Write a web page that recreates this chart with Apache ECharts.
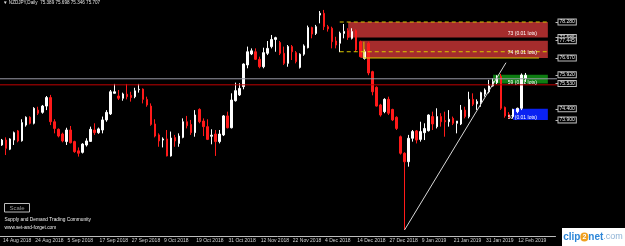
<!DOCTYPE html>
<html><head><meta charset="utf-8">
<script src="https://cdn.jsdelivr.net/npm/echarts@6/dist/echarts.min.js"></script>
<style>html,body{margin:0;padding:0;background:#000;overflow:hidden}#c{width:625px;height:246px}</style>
</head><body><div id="c"></div>
<script>
// ---- data ----
const dates = ['14 Aug 2018','15 Aug 2018','16 Aug 2018','17 Aug 2018','20 Aug 2018','21 Aug 2018','22 Aug 2018','23 Aug 2018',
'24 Aug 2018','27 Aug 2018','28 Aug 2018','29 Aug 2018','30 Aug 2018','31 Aug 2018','3 Sep 2018','4 Sep 2018',
'5 Sep 2018','6 Sep 2018','7 Sep 2018','10 Sep 2018','11 Sep 2018','12 Sep 2018','13 Sep 2018','14 Sep 2018',
'17 Sep 2018','18 Sep 2018','19 Sep 2018','20 Sep 2018','21 Sep 2018','24 Sep 2018','25 Sep 2018','26 Sep 2018',
'27 Sep 2018','28 Sep 2018','1 Oct 2018','2 Oct 2018','3 Oct 2018','4 Oct 2018','5 Oct 2018','8 Oct 2018',
'9 Oct 2018','10 Oct 2018','11 Oct 2018','12 Oct 2018','15 Oct 2018','16 Oct 2018','17 Oct 2018','18 Oct 2018',
'19 Oct 2018','22 Oct 2018','23 Oct 2018','24 Oct 2018','25 Oct 2018','26 Oct 2018','29 Oct 2018','30 Oct 2018',
'31 Oct 2018','1 Nov 2018','2 Nov 2018','5 Nov 2018','6 Nov 2018','7 Nov 2018','8 Nov 2018','9 Nov 2018',
'12 Nov 2018','13 Nov 2018','14 Nov 2018','15 Nov 2018','16 Nov 2018','19 Nov 2018','20 Nov 2018','21 Nov 2018',
'22 Nov 2018','23 Nov 2018','26 Nov 2018','27 Nov 2018','28 Nov 2018','29 Nov 2018','30 Nov 2018','3 Dec 2018',
'4 Dec 2018','5 Dec 2018','6 Dec 2018','7 Dec 2018','10 Dec 2018','11 Dec 2018','12 Dec 2018','13 Dec 2018',
'14 Dec 2018','17 Dec 2018','18 Dec 2018','19 Dec 2018','20 Dec 2018','21 Dec 2018','24 Dec 2018','26 Dec 2018',
'27 Dec 2018','28 Dec 2018','31 Dec 2018','2 Jan 2019','3 Jan 2019','4 Jan 2019','7 Jan 2019','8 Jan 2019',
'9 Jan 2019','10 Jan 2019','11 Jan 2019','14 Jan 2019','15 Jan 2019','16 Jan 2019','17 Jan 2019','18 Jan 2019',
'21 Jan 2019','22 Jan 2019','23 Jan 2019','24 Jan 2019','25 Jan 2019','28 Jan 2019','29 Jan 2019','30 Jan 2019',
'31 Jan 2019','1 Feb 2019','4 Feb 2019','5 Feb 2019','6 Feb 2019','7 Feb 2019','8 Feb 2019','11 Feb 2019',
'12 Feb 2019','13 Feb 2019','14 Feb 2019'];

const opens = [72.78,73.00,72.59,73.00,73.41,72.97,73.67,74.02,73.75,74.34,74.24,74.52,74.90,73.82,73.48,73.27,
72.93,73.45,72.93,72.52,72.45,72.78,72.94,73.45,73.33,73.45,73.90,74.17,75.09,74.97,74.87,75.05,
75.00,74.94,75.25,75.28,74.82,74.52,73.72,73.23,73.00,73.05,72.29,73.11,72.85,73.12,73.82,73.70,
73.33,74.37,73.85,73.60,73.17,73.27,72.93,73.23,74.08,73.55,74.76,75.02,75.39,76.36,76.85,76.95,
76.61,76.28,76.88,77.18,77.50,77.36,76.88,76.43,77.18,76.91,76.25,76.84,77.13,78.03,77.77,78.59,
78.67,78.07,78.00,77.43,77.33,77.77,77.89,77.55,77.89,77.40,76.65,77.33,76.06,75.36,74.57,74.27,
74.82,74.37,74.02,73.15,72.41,72.03,73.08,73.41,73.03,73.33,73.42,74.05,73.60,74.05,73.87,73.82,
73.97,73.75,73.72,74.34,74.05,74.82,74.62,74.67,75.05,75.16,75.42,75.57,75.84,74.46,74.15,74.05,
74.27,74.42,75.76];
const highs = [73.05,73.12,73.08,73.38,73.45,73.93,74.06,74.06,74.47,74.49,74.57,74.97,75.02,73.93,73.52,73.33,
73.55,73.63,72.97,72.67,72.86,73.08,73.60,73.75,73.56,74.05,74.34,75.24,75.51,75.24,75.12,75.51,
75.16,75.34,75.51,75.31,74.94,74.64,73.93,73.30,73.12,73.45,73.38,73.23,73.30,73.97,74.08,73.90,
74.34,74.42,73.97,73.93,73.48,73.45,73.45,74.12,74.27,75.09,75.57,75.54,76.43,77.18,77.10,77.10,
76.73,77.13,77.43,77.70,77.62,77.43,77.18,77.25,77.25,76.98,76.88,77.28,78.12,78.07,78.15,78.77,
78.82,78.15,78.07,77.62,77.85,78.19,78.00,78.00,77.95,77.45,77.05,77.40,76.10,75.40,74.62,74.87,
74.94,74.40,74.06,73.20,72.45,73.23,73.45,73.45,73.82,73.75,74.15,74.27,74.42,74.20,74.27,74.34,
74.05,73.85,74.57,74.49,75.16,75.09,74.82,75.16,75.31,75.69,75.76,75.90,75.96,74.50,74.25,74.40,
74.45,75.98,76.00];
const lows = [72.74,72.33,72.55,72.78,72.90,72.93,73.60,73.70,73.70,74.12,74.18,74.34,73.67,73.30,73.12,72.90,
72.78,72.85,72.43,72.26,72.40,72.71,72.93,73.23,73.28,73.30,73.82,74.12,75.09,74.79,74.76,74.82,
74.72,74.87,75.12,74.64,74.49,73.64,73.12,72.70,72.67,72.27,72.26,72.70,72.70,73.08,73.52,73.23,
73.15,73.75,73.18,73.00,72.81,72.29,72.85,73.18,73.52,73.52,74.72,74.97,75.27,76.21,76.80,76.58,
76.21,76.21,76.80,77.10,76.95,76.80,76.36,76.28,76.58,76.43,76.20,76.77,77.10,77.55,77.70,78.22,
77.92,77.85,77.10,77.10,76.93,77.55,77.48,77.50,76.95,76.70,76.60,75.90,75.00,74.50,74.05,74.20,
74.12,73.85,73.45,72.35,68.98,71.81,72.93,72.85,72.93,73.00,73.38,73.45,73.52,73.60,73.15,73.60,
73.67,73.30,73.67,73.97,73.97,74.52,74.35,74.49,74.94,75.09,75.39,75.50,74.35,74.00,73.95,73.98,
74.20,74.34,75.60];
const closes = [73.00,72.63,73.05,73.33,72.96,73.78,74.02,73.75,74.42,74.20,74.52,74.90,73.82,73.52,73.18,72.96,
73.45,72.88,72.48,72.41,72.82,72.96,73.48,73.33,73.50,73.90,74.24,75.16,75.16,74.87,75.06,74.94,
74.90,75.20,75.27,74.82,74.57,73.70,73.18,72.96,73.05,72.29,73.09,72.96,73.18,73.82,73.64,73.33,
74.12,73.82,73.60,73.03,73.22,72.93,73.27,74.08,73.55,74.79,75.21,75.31,76.40,76.95,76.99,76.61,
76.28,76.91,77.10,77.50,77.58,76.88,76.43,77.18,76.95,76.51,76.84,77.21,78.03,77.74,78.07,78.67,
78.07,77.97,77.40,77.25,77.78,77.86,77.59,77.85,77.03,76.73,76.95,76.00,75.16,74.52,74.12,74.82,
74.20,73.90,73.52,72.41,72.03,73.08,73.38,73.00,73.38,73.52,74.12,73.72,74.05,73.82,73.82,73.93,
73.75,73.85,74.34,74.05,74.82,74.60,74.72,75.12,75.24,75.42,75.61,75.76,74.42,74.08,74.00,74.37,
74.42,75.91,75.90];

const headerText = '\u25BC NZDJPY,Daily  75.389 75.698 75.346 75.707';
const priceLabels = [78.280, 77.585, 77.445, 76.670, 75.920, 75.530, 74.400, 73.900];
// order zones (bar-index span, price span)
const zoneLabels = ['73 (0.01 lots)', '74 (0.01 lots)', '59 (0.01 lots)', '50 (0.01 lots)'];
const zoneFrom   = [86.0, 89.1, 122.0, 127.0];
const zoneTo     = [135.6, 135.6, 135.6, 135.6];
const zoneTop    = [78.28, 77.445, 75.92, 74.40];
const zoneBottom = [77.585, 76.67, 75.53, 73.90];
const zoneTextAt = [77.74, 76.91, 75.55, 73.99];
const zoneTextX  = 132.9;
// yellow order lines
const dashLevels = [78.28, 76.95];
const dashFrom = 83.9, dashTo = 135.6;
const boxEdgeX = [89.9, 89.9, 133.4];
const boxEdgeY = [77.40, 76.67, 76.67];
// trend line
const trendX = [100, 125.2];
const trendY = [68.98, 76.46];
// horizontal price lines
const grayLevel = 75.74;
const redLevel = 75.47;

// ---- chart ----
const N = 138;
const cats = dates.concat(new Array(N - dates.length).fill(''));
const candles = dates.map((d, i) => [opens[i], closes[i], lows[i], highs[i]]);
const zoneFill = ['#a52c2c', '#a52c2c', '#0e7d12', '#0a22f2'];
const YMIN = 68.709, YMAX = 79.264;
const FONT = 'Liberation Sans';

const chart = echarts.init(document.getElementById('c'), null, {renderer: 'canvas'});
chart.setOption({
  backgroundColor: '#000',
  animation: false,
  grid: {left: -2, right: 69.5, top: 0, bottom: 10},
  xAxis: [{
    type: 'category', data: cats, boundaryGap: true,
    axisLine: {lineStyle: {color: '#bdbdbd', width: 1}},
    axisTick: {alignWithLabel: true, length: 3, lineStyle: {color: '#bdbdbd'},
      interval: (i) => i % 8 === 0 && i <= 128},
    axisLabel: {interval: (i) => i % 8 === 0 && i <= 128, color: '#d2d2d2', fontSize: 5,
      fontFamily: FONT, align: 'left', margin: 2, padding: [0, 0, 0, 1]},
    splitLine: {show: false}
  }, {
    type: 'value', min: -0.5, max: N - 0.5, show: false
  }],
  yAxis: [{
    type: 'value', min: YMIN, max: YMAX, show: false, splitLine: {show: false}
  }, {
    type: 'value', min: YMIN, max: YMAX, position: 'right',
    axisLine: {show: false}, splitLine: {show: false},
    axisTick: {show: true, customValues: priceLabels, length: 3, lineStyle: {color: '#bdbdbd'}},
    axisLabel: {customValues: priceLabels, margin: 3, fontSize: 5, fontFamily: FONT, color: '#f0f0f0',
      formatter: (v) => v.toFixed(3), backgroundColor: '#000', borderColor: '#bcbcbc', borderWidth: 1,
      padding: [0, 1, 0, 1], lineHeight: 5}
  }],
  series: [
    {
      type: 'custom', xAxisIndex: 1, yAxisIndex: 0, z: 1, silent: true,
      data: zoneFrom.map((f, i) => [f, zoneTo[i], zoneTop[i], zoneBottom[i], i]),
      encode: {x: [0, 1], y: [2, 3]},
      renderItem: (params, api) => {
        const a = api.coord([api.value(0), api.value(2)]);
        const b = api.coord([api.value(1), api.value(3)]);
        return {type: 'rect', shape: {x: a[0], y: a[1], width: b[0] - a[0], height: b[1] - a[1]},
          style: {fill: zoneFill[api.value(4)]}};
      }
    },
    {
      type: 'candlestick', z: 3, data: candles, barWidth: 2,
      itemStyle: {color: '#ffffff', color0: '#ff1a1a', borderColor: '#ffffff', borderColor0: '#ff1a1a', borderWidth: 1}
    },
    ...dashLevels.map(lv => ({
      type: 'line', xAxisIndex: 1, yAxisIndex: 0, z: 4, symbol: 'none', silent: true,
      data: [[dashFrom, lv], [dashTo, lv]],
      lineStyle: {color: '#d9c800', width: 1, type: [4, 3]}
    })),
    {
      type: 'line', xAxisIndex: 1, yAxisIndex: 0, z: 4, symbol: 'none', silent: true,
      data: boxEdgeX.map((x, i) => [x, boxEdgeY[i]]),
      lineStyle: {color: '#d9c800', width: 1}
    },
    {
      type: 'line', xAxisIndex: 1, yAxisIndex: 0, z: 5, symbol: 'none', silent: true,
      data: trendX.map((x, i) => [x, trendY[i]]),
      lineStyle: {color: '#d8d8d8', width: 1}
    },
    {
      type: 'line', xAxisIndex: 1, yAxisIndex: 0, z: 4, symbol: 'none', silent: true, clip: false,
      data: [[-0.5, grayLevel], [155, grayLevel]],
      lineStyle: {color: '#9a9aa6', width: 1}
    },
    {
      type: 'line', xAxisIndex: 1, yAxisIndex: 0, z: 4, symbol: 'none', silent: true, clip: false,
      data: [[-0.5, redLevel], [155, redLevel]],
      lineStyle: {color: '#c00000', width: 1}
    },
    {
      type: 'custom', xAxisIndex: 1, yAxisIndex: 0, z: 6, silent: true,
      data: zoneLabels.map((t, i) => [zoneTextX, zoneTextAt[i], i]),
      encode: {x: 0, y: 1},
      renderItem: (params, api) => {
        const p = api.coord([api.value(0), api.value(1)]);
        return {type: 'text', x: p[0], y: p[1],
          style: {text: zoneLabels[api.value(2)], fill: '#ffffff', font: '5px ' + FONT, align: 'right', verticalAlign: 'middle'}};
      }
    }
  ],
  graphic: [
    {type: 'text', left: 3, top: 0, style: {text: headerText, fill: '#e0e0e0', font: '4.6px ' + FONT}},
    {type: 'rect', shape: {x: 4.5, y: 203.5, width: 25, height: 8.5}, style: {fill: '#000', stroke: '#bdbdbd', lineWidth: 1}},
    {type: 'text', x: 17, y: 208, style: {text: 'Scale', fill: '#9a9a9a', font: '6px ' + FONT, align: 'center', verticalAlign: 'middle'}},
    {type: 'text', x: 4.5, y: 220, style: {text: 'Supply and Demand Trading Community', fill: '#f0f0f0', font: '4.8px ' + FONT, verticalAlign: 'middle'}},
    {type: 'text', x: 4.5, y: 228, style: {text: 'www.set-and-forget.com', fill: '#f0f0f0', font: '4.8px ' + FONT, verticalAlign: 'middle'}},
    {type: 'rect', shape: {x: 562, y: 228, width: 63, height: 18}, style: {fill: '#ffffff'}},
    {type: 'text', x: 593, y: 237, style: {
      text: '{a|clip}{b|2}{a|net}{c|.com}', align: 'center', verticalAlign: 'middle',
      rich: {a: {fill: '#2c86d8', font: 'bold 10px ' + FONT},
             b: {fill: '#ffffff', font: 'bold 7px ' + FONT, backgroundColor: '#f0a020', borderRadius: 5, padding: [1, 2, 1, 2]},
             c: {fill: '#8fb3d6', font: '9px ' + FONT}}}}
  ]
});
</script></body></html>
